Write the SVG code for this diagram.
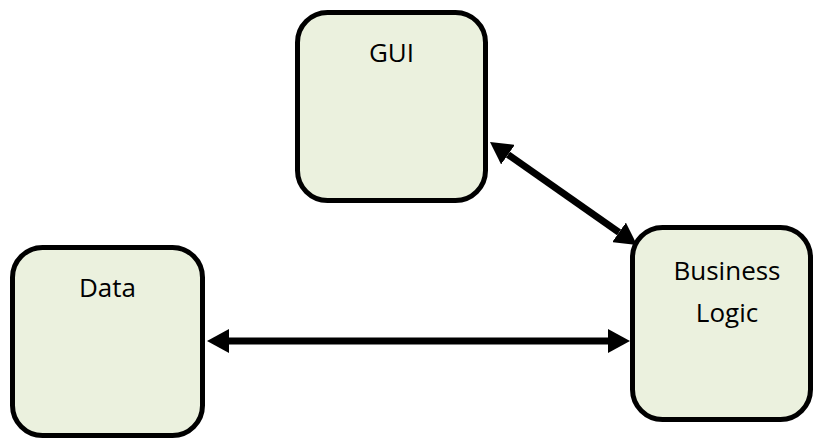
<svg xmlns="http://www.w3.org/2000/svg" width="815" height="441" viewBox="0 0 815 441">
  <defs>
    <style>
      .box { fill: #EBF1DE; stroke: #000; stroke-width: 5; }
      .label { font-family: "Open Sans", "Noto Sans", sans-serif; font-size: 26px; fill: #000; text-anchor: middle; }
      .link { stroke: #000; stroke-width: 7; fill: none; marker-start: url(#head); marker-end: url(#head); }
    </style>
    <marker id="head" markerUnits="userSpaceOnUse" viewBox="0 0 22 24" refX="0" refY="12" markerWidth="22" markerHeight="24" orient="auto-start-reverse">
      <path d="M0,0 L22,12 L0,24 z" fill="#000"/>
    </marker>
  </defs>
  <rect width="815" height="441" fill="#fff"/>

  <g id="connectors">
    <line class="link" x1="229" y1="341" x2="608" y2="341"/>
    <line class="link" x1="508" y1="154.6" x2="619" y2="232.4"/>
  </g>

  <g id="gui">
    <rect class="box" x="297.5" y="12.5" width="188" height="188" rx="30" ry="30"/>
    <text class="label" x="391.5" y="62">GUI</text>
  </g>

  <g id="business-logic">
    <rect class="box" x="632.5" y="227.5" width="178" height="192" rx="30" ry="30"/>
    <text class="label" x="727" y="280">Business</text>
    <text class="label" x="727" y="322">Logic</text>
  </g>

  <g id="data">
    <rect class="box" x="12.5" y="247.5" width="190" height="188" rx="30" ry="30"/>
    <text class="label" x="107.5" y="297">Data</text>
  </g>
</svg>
